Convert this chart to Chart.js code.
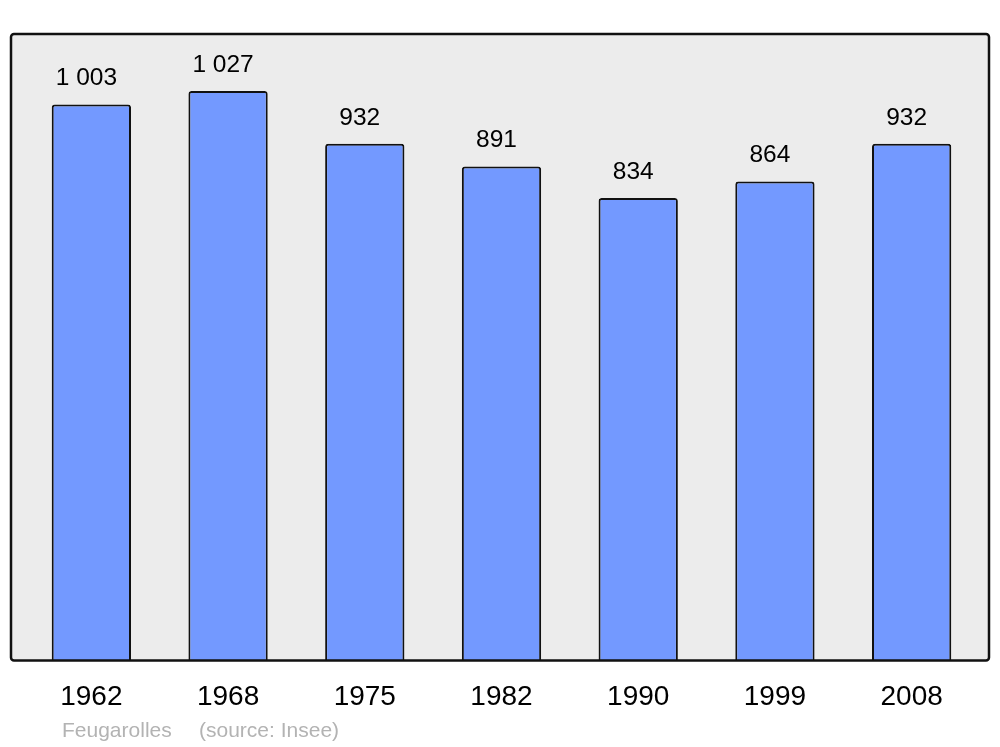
<!DOCTYPE html>
<html lang="fr">
<head>
  <meta charset="UTF-8">
  <title>Feugarolles population</title>
  <script src="https://cdn.jsdelivr.net/npm/chart.js"></script>
  <style>
    html, body { margin: 0; padding: 0; background: #fff; }
    #wrap { width: 1000px; height: 747px; position: relative; }
  </style>
</head>
<body>
  <div id="wrap"><canvas id="popChart" width="1000" height="747"></canvas></div>
  <script>
    const years = ['1962', '1968', '1975', '1982', '1990', '1999', '2008'];
    const population = [1003, 1027, 932, 891, 834, 864, 932];
    const yMax = 1130;
    const townName = 'Feugarolles';
    const sourceNote = '(source: Insee)';

    const fmt = v => String(v).replace(/\B(?=(\d{3})+(?!\d))/g, ' ');

    // grey frame behind the plot + value labels above the bars
    const framePlugin = {
      id: 'frame',
      beforeDraw(chart) {
        const ctx = chart.ctx;
        const a = chart.chartArea;
        ctx.save();
        ctx.fillStyle = '#ececec';
        ctx.beginPath();
        ctx.roundRect(11, 34, 978, a.bottom - 34, 3);
        ctx.fill();
        ctx.restore();
      },
      afterDraw(chart) {
        const ctx = chart.ctx;
        const a = chart.chartArea;
        ctx.save();
        ctx.strokeStyle = '#111';
        ctx.lineWidth = 2.5;
        ctx.beginPath();
        ctx.roundRect(11, 34, 978, a.bottom - 34, 3);
        ctx.stroke();

        ctx.fillStyle = '#000';
        ctx.font = '24.5px "Liberation Sans", Arial, sans-serif';
        ctx.textAlign = 'center';
        ctx.textBaseline = 'alphabetic';
        const meta = chart.getDatasetMeta(0);
        meta.data.forEach((bar, i) => {
          ctx.fillText(fmt(population[i]), bar.x - 5, bar.y - 19);
        });

        ctx.fillStyle = '#b3b3b3';
        ctx.font = '21px "Liberation Sans", Arial, sans-serif';
        ctx.textAlign = 'left';
        ctx.fillText(townName, 62, 737);
        ctx.fillText(sourceNote, 199, 737);
        ctx.restore();
      }
    };

    new Chart(document.getElementById('popChart'), {
      type: 'bar',
      data: {
        labels: years,
        datasets: [{
          data: population,
          backgroundColor: '#7399ff',
          borderColor: '#111',
          borderWidth: 2,
          borderRadius: { topLeft: 3, topRight: 3 },
          borderSkipped: 'bottom',
          barPercentage: 0.58,
          categoryPercentage: 1
        }]
      },
      options: {
        responsive: false,
        animation: false,
        layout: { padding: { left: 23, right: 20, top: 34, bottom: 21 } },
        plugins: { legend: { display: false }, tooltip: { enabled: false } },
        scales: {
          x: {
            grid: { display: false },
            border: { display: false },
            ticks: {
              color: '#000',
              padding: 12,
              font: { family: '"Liberation Sans", Arial, sans-serif', size: 28 }
            }
          },
          y: {
            display: false,
            min: 0,
            max: yMax
          }
        }
      },
      plugins: [framePlugin]
    });
  </script>
</body>
</html>
